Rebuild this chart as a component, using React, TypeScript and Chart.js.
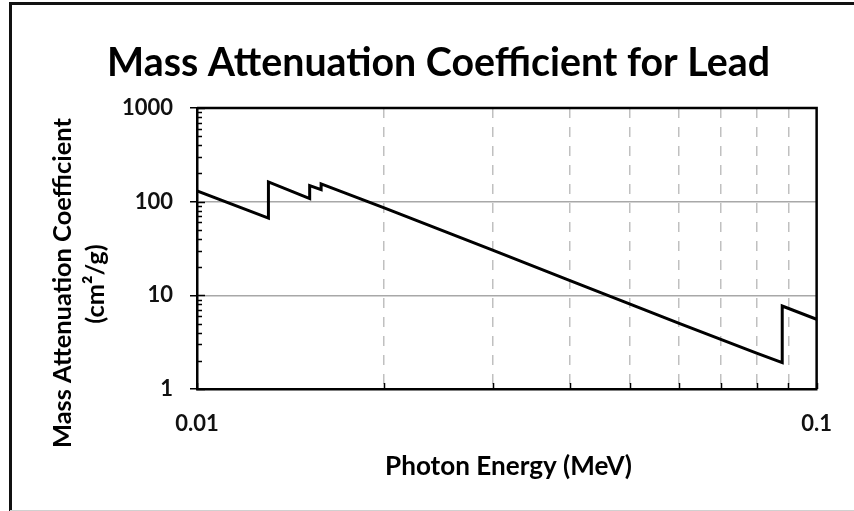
import React, { useEffect, useRef } from "react";
import { Chart, registerables } from "chart.js";

Chart.register(...registerables);

// Photon energy (MeV) and mass attenuation coefficient (cm²/g) for lead
const energyMeV = [0.01, 0.01304, 0.01304, 0.015, 0.0152, 0.0152, 0.01586, 0.01586, 0.02, 0.03, 0.04, 0.05, 0.06, 0.08, 0.088, 0.088, 0.1];
const massAtten = [130.6, 66.8, 162.4, 111.6, 107.8, 148.5, 134.4, 154.5, 86.36, 30.32, 14.36, 8.041, 5.021, 2.419, 1.91, 7.683, 5.549];

const xTickValues = [0.01, 0.02, 0.03, 0.04, 0.05, 0.06, 0.07, 0.08, 0.09, 0.1];
const xTickLabels = ["0.01", "", "", "", "", "", "", "", "", "0.1"];
const yTickValues = [1, 2, 3, 4, 5, 6, 7, 8, 9, 10, 20, 30, 40, 50, 60, 70, 80, 90, 100, 200, 300, 400, 500, 600, 700, 800, 900, 1000];
const yMajorValues = [1, 10, 100, 1000];
const yGridValues = [10, 100];

const chartTitle = "Mass Attenuation Coefficient for Lead";
const yTitleLines = ["Mass Attenuation Coefficient", "(cm²/g)"];
const xTitle = "Photon Energy (MeV)";

const FAMILY = "Lato, 'Open Sans', sans-serif";

function fitSize(ctx: CanvasRenderingContext2D, text: string, target: number, base: number) {
  ctx.font = `bold ${base}px ${FAMILY}`;
  const w = ctx.measureText(text).width;
  return (base * target) / w;
}

const decorPlugin = {
  id: "decor",
  beforeDraw(chart: any) {
    const ctx = chart.ctx as CanvasRenderingContext2D;
    ctx.save();
    ctx.fillStyle = "#ffffff";
    ctx.fillRect(0, 0, chart.width, chart.height);
    // outer frame
    ctx.strokeStyle = "#111";
    ctx.lineWidth = 3;
    ctx.beginPath();
    ctx.moveTo(10.5, 511);
    ctx.lineTo(10.5, 3.5);
    ctx.lineTo(854, 3.5);
    ctx.stroke();
    ctx.strokeStyle = "#d0d0d0";
    ctx.lineWidth = 1;
    ctx.beginPath();
    ctx.moveTo(10, 510.5);
    ctx.lineTo(854, 510.5);
    ctx.stroke();
    ctx.restore();
  },
  afterDraw(chart: any) {
    const ctx = chart.ctx as CanvasRenderingContext2D;
    const { left, right, top, bottom } = chart.chartArea;
    const xs = chart.scales.x;
    const ys = chart.scales.y;
    ctx.save();
    // plot frame top/right
    ctx.strokeStyle = "#000";
    ctx.lineWidth = 2.5;
    ctx.beginPath();
    ctx.moveTo(left, top);
    ctx.lineTo(right, top);
    ctx.lineTo(right, bottom);
    ctx.stroke();
    // inward ticks
    ctx.lineWidth = 1.5;
    ctx.beginPath();
    for (const v of xTickValues) {
      const px = Math.round(xs.getPixelForValue(v)) + 0.5;
      ctx.moveTo(px, bottom);
      ctx.lineTo(px, bottom - 6);
    }
    for (const v of yTickValues) {
      const py = Math.round(ys.getPixelForValue(v)) + 0.5;
      ctx.moveTo(left, py);
      ctx.lineTo(left + (yMajorValues.includes(v) ? 8 : 5), py);
    }
    ctx.stroke();

    ctx.fillStyle = "#000";
    // chart title
    const ts = fitSize(ctx, chartTitle, 663, 36);
    ctx.font = `bold ${ts}px ${FAMILY}`;
    ctx.textAlign = "center";
    ctx.textBaseline = "alphabetic";
    ctx.fillText(chartTitle, 438.5, 76);

    // x title
    const xsz = fitSize(ctx, xTitle, 247, 22);
    ctx.font = `bold ${xsz}px ${FAMILY}`;
    ctx.fillText(xTitle, 508.5, 475);

    // y title
    const ysz = fitSize(ctx, yTitleLines[0], 330, 22);
    ctx.font = `bold ${ysz}px ${FAMILY}`;
    ctx.save();
    ctx.translate(71, 283);
    ctx.rotate(-Math.PI / 2);
    ctx.fillText(yTitleLines[0], 0, 0);
    ctx.restore();
    ctx.save();
    ctx.translate(104, 284);
    ctx.rotate(-Math.PI / 2);
    ctx.fillText(yTitleLines[1], 0, 0);
    ctx.restore();
    ctx.restore();
  },
};

export default function App() {
  const ref = useRef<HTMLCanvasElement | null>(null);
  useEffect(() => {
    if (!ref.current) return;
    const chart = new Chart(ref.current, {
      type: "line",
      data: {
        datasets: [
          {
            data: energyMeV.map((e, i) => ({ x: e, y: massAtten[i] })),
            borderColor: "#000",
            borderWidth: 3,
            pointRadius: 0,
            tension: 0,
            fill: false,
          },
        ],
      },
      options: {
        animation: false,
        responsive: false,
        layout: { padding: { top: 108, right: 34, bottom: 0, left: 0 } },
        plugins: { legend: { display: false }, title: { display: false }, tooltip: { enabled: false } },
        scales: {
          x: {
            type: "logarithmic",
            min: 0.01,
            max: 0.1,
            afterBuildTicks: (s: any) => {
              s.ticks = xTickValues.map((v) => ({ value: v }));
            },
            afterFit: (s: any) => {
              s.height = 122;
            },
            ticks: {
              autoSkip: false,
              maxRotation: 0,
              padding: 22,
              color: "#111",
              font: { family: FAMILY, size: 22, weight: "bold" },
              callback: (v: any) => {
                const i = xTickValues.indexOf(Number(v));
                return i >= 0 ? xTickLabels[i] : "";
              },
            },
            grid: {
              drawTicks: false,
              lineWidth: 1.5,
              color: (c: any) => {
                const v = c.tick?.value;
                return v === 0.01 || v === 0.1 ? "rgba(0,0,0,0)" : "#c0c0c0";
              },
            },
            border: { display: true, color: "#000", width: 2.5, dash: [10, 9] },
          },
          y: {
            type: "logarithmic",
            min: 1,
            max: 1000,
            afterBuildTicks: (s: any) => {
              s.ticks = yTickValues.map((v) => ({ value: v }));
            },
            afterFit: (s: any) => {
              s.width = 197;
            },
            ticks: {
              autoSkip: false,
              padding: 17,
              color: "#111",
              font: { family: FAMILY, size: 22, weight: "bold" },
              callback: (v: any) => (yMajorValues.includes(Number(v)) ? String(v) : ""),
            },
            grid: {
              drawTicks: true,
              tickLength: 7,
              tickWidth: 1.5,
              lineWidth: 1.5,
              tickColor: (c: any) => (yMajorValues.includes(c.tick?.value) ? "#000" : "rgba(0,0,0,0)"),
              color: (c: any) => (yGridValues.includes(c.tick?.value) ? "#a8a8a8" : "rgba(0,0,0,0)"),
            },
            border: { display: true, color: "#000", width: 2.5 },
          },
        },
      },
      plugins: [decorPlugin],
    } as any);
    return () => chart.destroy();
  }, []);
  return (
    <div style={{ position: "absolute", left: 0, top: 0, width: 854, height: 511 }}>
      <canvas ref={ref} width={854} height={511} style={{ width: 854, height: 511, display: "block" }} />
    </div>
  );
}
